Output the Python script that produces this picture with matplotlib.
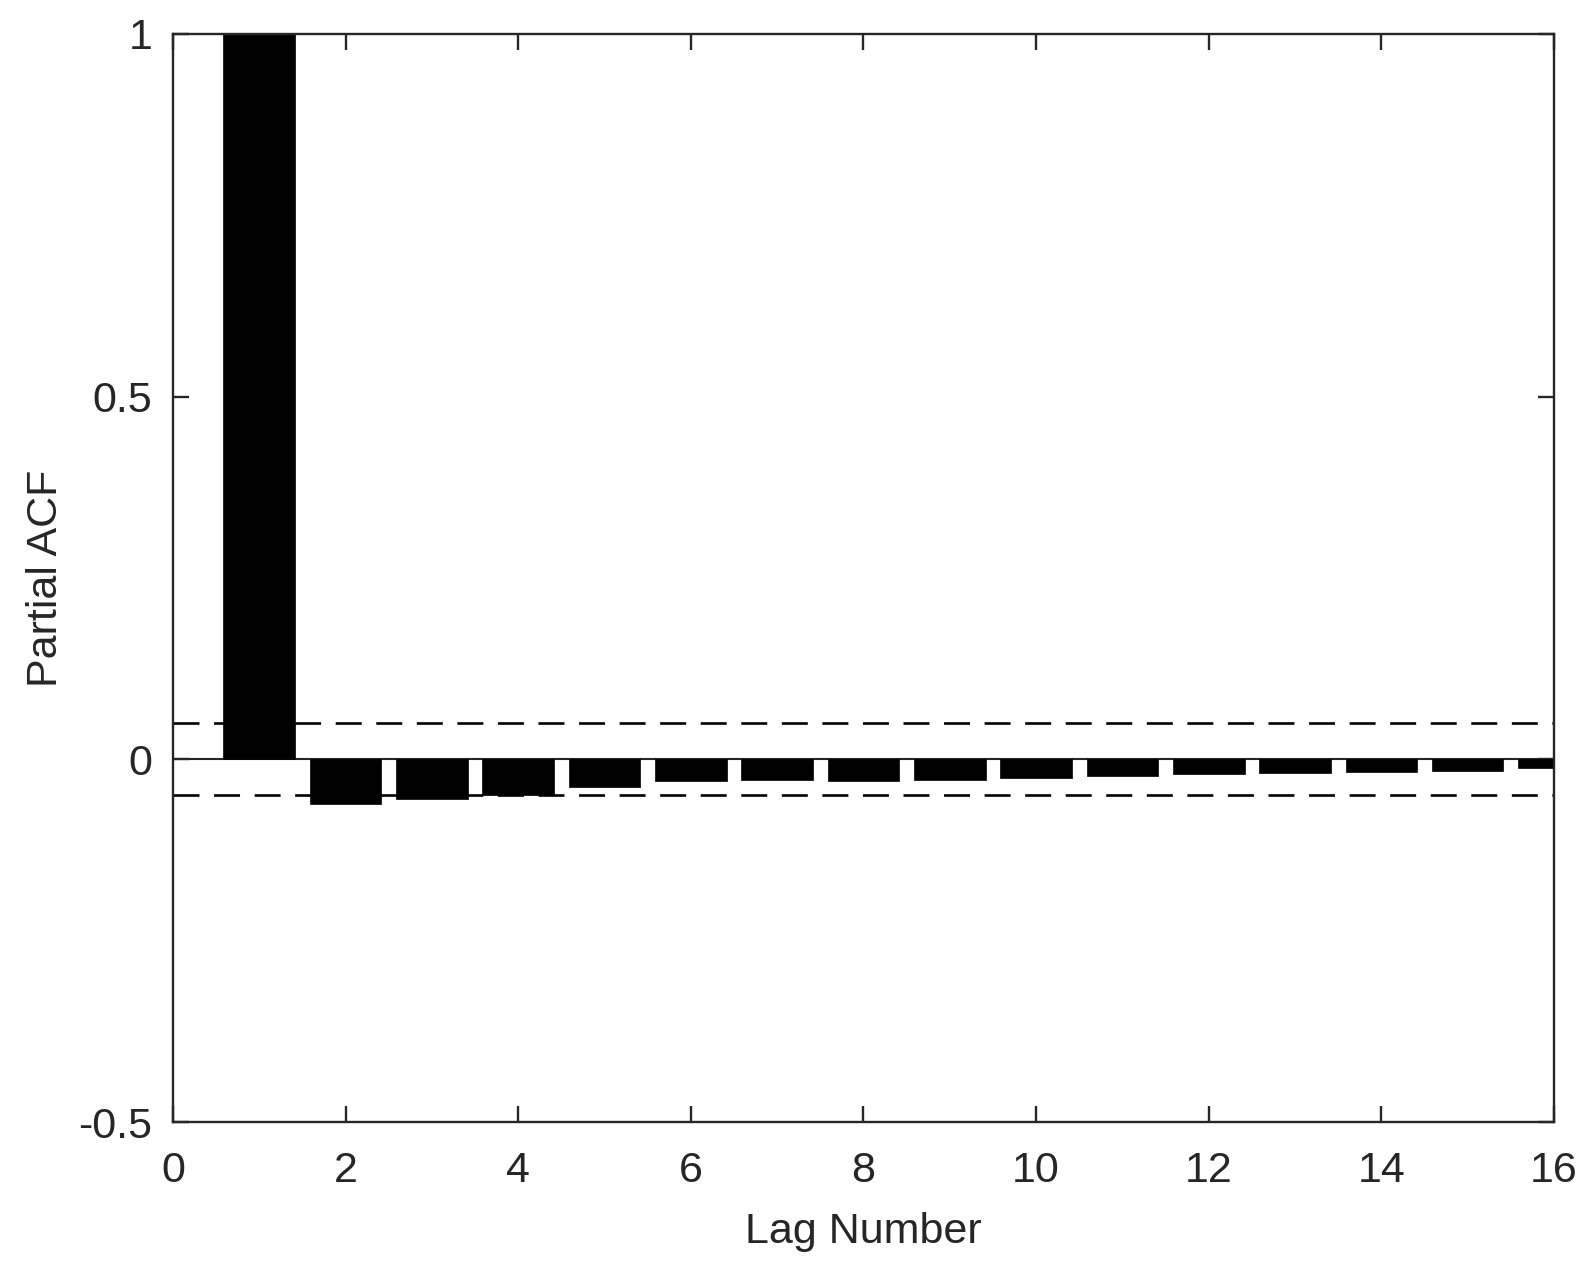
import matplotlib
matplotlib.use("Agg")
import matplotlib.pyplot as plt

lags = list(range(1, 17))
pacf = [1.0, -0.061, -0.055, -0.049, -0.038, -0.030, -0.028, -0.030,
        -0.029, -0.026, -0.023, -0.020, -0.019, -0.017, -0.016, -0.012]
conf_bound = 0.0497
xticks = [0, 2, 4, 6, 8, 10, 12, 14, 16]
yticks = [-0.5, 0, 0.5, 1]
yticklabels = ["-0.5", "0", "0.5", "1"]

plt.rcParams['font.family'] = ['Liberation Sans', 'DejaVu Sans']
plt.rcParams['lines.scale_dashes'] = False
dark = '#262626'

fig = plt.figure(figsize=(15.93, 12.62), dpi=100)
ax = fig.add_axes([0.1086, 0.1109, 0.9755 - 0.1086, 0.9731 - 0.1109])

ax.axhline(0, color=dark, lw=1.5, zorder=1)
ax.bar(lags, pacf, width=0.83, color='black', edgecolor='black', lw=0.5, zorder=2)
for b in (conf_bound, -conf_bound):
    ax.axhline(b, color='black', lw=1.9, linestyle=(0, (18.7, 10.5)), zorder=3)

ax.set_xlim(0, 16)
ax.set_ylim(-0.5, 1)
ax.set_xticks(xticks)
ax.set_yticks(yticks)
ax.set_yticklabels(yticklabels)

for s in ax.spines.values():
    s.set_color(dark)
    s.set_linewidth(1.7)
    s.set_zorder(5)

ax.tick_params(direction='in', length=11.5, width=1.7, color=dark,
               labelcolor=dark, labelsize=31, top=True, right=True)
ax.tick_params(axis='x', pad=21)
ax.tick_params(axis='y', pad=15)

ax.set_xlabel('Lag Number', fontsize=31, color=dark, labelpad=15)
ax.set_ylabel('Partial ACF', fontsize=31, color=dark, labelpad=9)

fig.savefig('out.png', dpi=100)
